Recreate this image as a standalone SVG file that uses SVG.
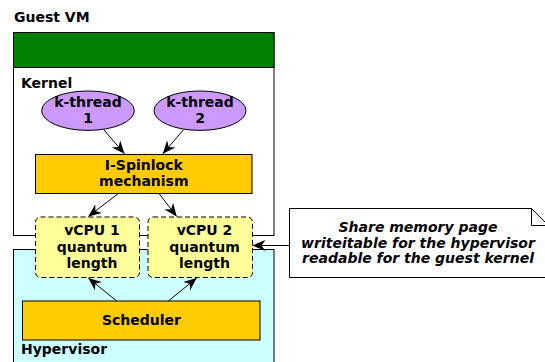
<svg xmlns="http://www.w3.org/2000/svg" width="545" height="362" viewBox="0 0 545 362">
<style>
text{font-family:"DejaVu Sans",sans-serif;font-weight:bold;font-size:14px;fill:#000}
.c{text-anchor:middle}
.n{font-style:italic}
.box{stroke:#000;stroke-width:1}
.edge{stroke:#000;stroke-width:1;fill:none;marker-end:url(#ah)}
</style>
<defs>
<marker id="ah" markerUnits="userSpaceOnUse" markerWidth="14" markerHeight="12" refX="13" refY="5.5" orient="auto">
<path d="M0,0 L13,5.5 L0,11 L4,5.5 Z" fill="#000"/>
</marker>
</defs>
<rect width="545" height="362" fill="#fff"/>
<g id="hypervisor">
<rect class="box" x="13.5" y="249.5" width="260.5" height="120" fill="#ccffff"/>
<text x="21" y="354">Hypervisor</text>
</g>
<g id="guestvm">
<text x="14" y="22">Guest VM</text>
<rect class="box" x="13.5" y="32.5" width="260.5" height="203" fill="#fff"/>
<rect class="box" x="13.5" y="32.5" width="260.5" height="35" fill="#008000"/>
<text x="21" y="88">Kernel</text>
</g>
<g id="kthread1">
<ellipse class="box" cx="88" cy="110.7" rx="46.3" ry="19.7" fill="#cc99ff"/>
<text class="c" x="88" y="107">k-thread</text>
<text class="c" x="88" y="123">1</text>
</g>
<g id="kthread2">
<ellipse class="box" cx="200" cy="110.7" rx="46" ry="19.7" fill="#cc99ff"/>
<text class="c" x="200" y="107">k-thread</text>
<text class="c" x="200" y="123">2</text>
</g>
<g id="spinlock">
<rect class="box" x="35.5" y="154.5" width="216.5" height="39" fill="#ffcc00"/>
<text class="c" x="143.8" y="170">I-Spinlock</text>
<text class="c" x="143.8" y="186">mechanism</text>
</g>
<g id="vcpu1">
<rect class="box" x="35.5" y="217" width="104" height="60.5" rx="5" fill="#ffff99" stroke-dasharray="5,3"/>
<text class="c" x="92" y="235">vCPU 1</text>
<text class="c" x="92" y="251.5">quantum</text>
<text class="c" x="92" y="267.5">length</text>
</g>
<g id="vcpu2">
<rect class="box" x="148" y="217" width="104.5" height="60.5" rx="5" fill="#ffff99" stroke-dasharray="5,3"/>
<text class="c" x="204.5" y="235">vCPU 2</text>
<text class="c" x="204.5" y="251.5">quantum</text>
<text class="c" x="204.5" y="267.5">length</text>
</g>
<g id="scheduler">
<rect class="box" x="22.5" y="301" width="237.5" height="39" fill="#ffcc00"/>
<text class="c" x="141.5" y="325">Scheduler</text>
</g>
<g id="note">
<path class="box" d="M289.5,208.5 H531.5 L548.5,225.5 V277.5 H289.5 Z" fill="#fff"/>
<path class="box" d="M531.5,208.5 V225.5 H548.5" fill="none"/>
<text class="c n" x="418" y="232">Share memory page</text>
<text class="c n" x="418" y="247.5">writeitable for the hypervisor</text>
<text class="c n" x="418" y="262.5">readable for the guest kernel</text>
</g>
<g id="connectors">
<line class="edge" x1="104" y1="130" x2="124.5" y2="153.8"/>
<line class="edge" x1="183.3" y1="130" x2="162.8" y2="153.8"/>
<line class="edge" x1="118.3" y1="193.5" x2="88.3" y2="216.5"/>
<line class="edge" x1="159" y1="193.5" x2="176.7" y2="216.5"/>
<line class="edge" x1="116.7" y1="301" x2="88.3" y2="278"/>
<line class="edge" x1="168.3" y1="301" x2="196.7" y2="278"/>
<line class="edge" x1="289.5" y1="245.5" x2="252.5" y2="245.5"/>
</g>
</svg>
